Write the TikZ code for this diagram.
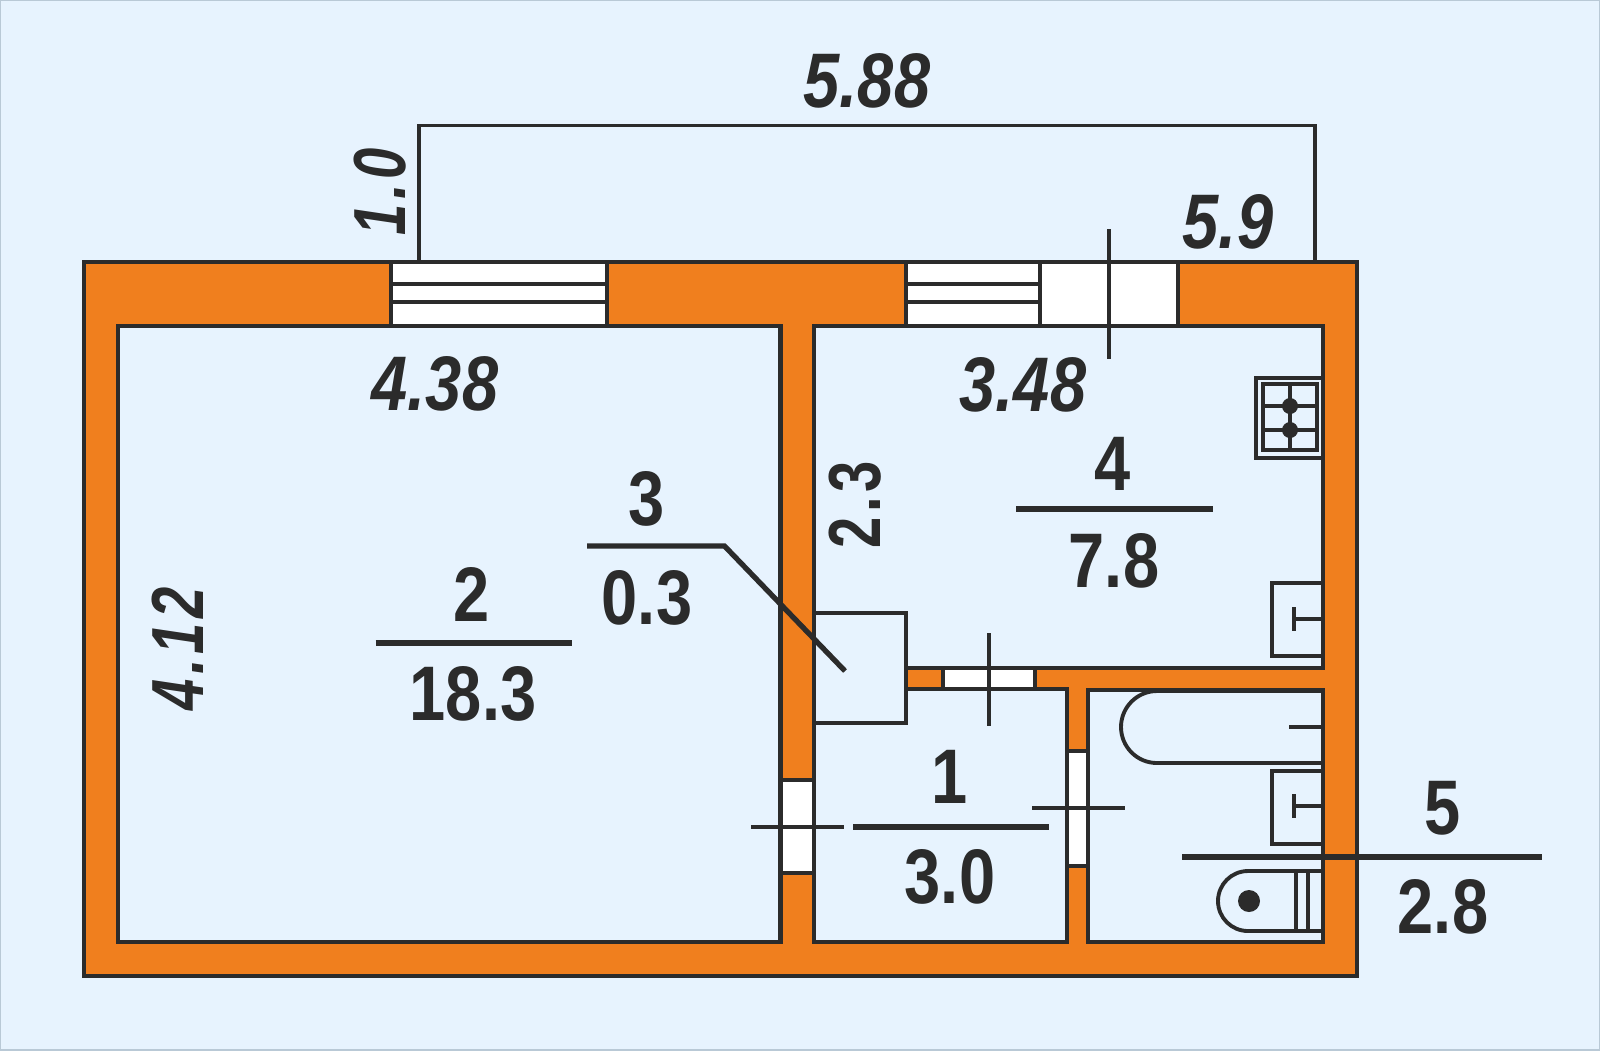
\documentclass[tikz,border=0pt]{standalone}
\usepackage{fontspec}
\usepackage{graphicx}
\newfontfamily\planfont{Liberation Sans}
\newcommand{\numtext}[1]{\scalebox{0.84}[1]{#1}}
\newcommand{\sidetext}[1]{\scalebox{0.76}[1]{\addfontfeature{LetterSpace=8}#1}}
\definecolor{planbg}{HTML}{E7F3FE}
\definecolor{framec}{HTML}{B9C9D6}
\definecolor{wallc}{HTML}{F07F1E}
\definecolor{inkc}{HTML}{2B2B2B}
\tikzset{
  wall/.style={draw=inkc,fill=wallc,line width=1.2pt},
  room/.style={draw=inkc,fill=planbg,line width=1.2pt},
  opening/.style={draw=inkc,fill=white,line width=1.2pt},
  thin ink/.style={draw=inkc,line width=1pt},
  fixture/.style={draw=inkc,line width=1.1pt},
  rule/.style={draw=inkc,line width=1.5pt},
  area/.style={inner sep=0pt,text=inkc,font=\planfont\fontsize{22}{22}\selectfont\bfseries},
  size/.style={inner sep=0pt,text=inkc,font=\planfont\fontsize{22}{22}\selectfont\bfseries\itshape},
  sidearea/.style={area,rotate=90,font=\planfont\fontsize{21}{21}\selectfont\bfseries},
  sidesize/.style={size,rotate=90,font=\planfont\fontsize{21}{21}\selectfont\bfseries\itshape}
}
\begin{document}
\begin{tikzpicture}[x=0.01cm,y=-0.01cm]
\useasboundingbox (0,0) rectangle (1600,1050);
\fill[planbg] (0,0) rectangle (1600,1050);
\draw[framec,line width=0.6pt] (0,0) rectangle (1600,1050);
% walls and rooms
\draw[wall] (84,262) rectangle (1357,976);
\draw[room] (118,326) rectangle (780.5,942);
\draw[room] (814,326) -- (1323,326) -- (1323,668) -- (906,668) -- (906,689) -- (1067,689) -- (1067,942) -- (814,942) -- cycle;
\draw[room] (1088,690) rectangle (1323,942);
\draw[thin ink] (814,613) -- (906,613) -- (906,668);
\draw[thin ink] (906,689) -- (906,723) -- (814,723);
% balcony
\draw[thin ink] (419,262) -- (419,125.5) -- (1315,125.5) -- (1315,262);
% windows and doors
\draw[opening] (391,262) rectangle (607,326);
\draw[opening] (906,262) rectangle (1040,326);
\draw[opening] (1040,262) rectangle (1178,326);
\foreach \y in {284,302} {
  \draw[thin ink] (391,\y) -- (607,\y);
  \draw[thin ink] (906,\y) -- (1040,\y);
}
\draw[opening] (780.5,780) rectangle (814,873);
\draw[opening] (943,668) rectangle (1035,689);
\draw[opening] (1067,751) rectangle (1088,866);
\draw[thin ink] (1109,229) -- (1109,359);
\draw[thin ink] (751,827) -- (844,827);
\draw[thin ink] (989,633) -- (989,726);
\draw[thin ink] (1032,808) -- (1125,808);
% stove
\draw[fixture] (1323,378) -- (1256,378) -- (1256,458) -- (1323,458);
\draw[fixture] (1263,384) rectangle (1317,450);
\draw[fixture] (1290,384) -- (1290,450);
\foreach \y in {406,430} {
  \draw[fixture] (1263,\y) -- (1317,\y);
  \fill[inkc] (1290,\y) circle (8);
}
% sinks
\foreach \y/\s in {583/619,771/806} {
  \draw[fixture] (1323,\y) -- (1272,\y) -- (1272,\y+73) -- (1323,\y+73);
  \draw[fixture] (1323,\s) -- (1294,\s);
  \draw[fixture] (1294,\s-12) -- (1294,\s+12);
}
% bath
\draw[fixture] (1323,763) -- (1157,763) arc (90:270:36) -- (1323,691);
\draw[fixture] (1289,727) -- (1323,727);
% toilet
\draw[fixture] (1323,871) -- (1248,871) arc (270:90:30) -- (1323,931);
\draw[fixture] (1296,871) -- (1296,931);
\draw[fixture] (1308,871) -- (1308,931);
\fill[inkc] (1249,901) circle (11);
% labels
\node[size] (L588) at (867,81) {\numtext{5.88}};
\node[sidesize] (L10) at (380,192) {\sidetext{1.0}};
\node[size] (L59) at (1228,222) {\numtext{5.9}};
\node[size] (L438) at (435,384) {\numtext{4.38}};
\node[size] (L348) at (1023,385) {\numtext{3.48}};
\node[sidearea] (L23) at (855,505) {\sidetext{2.3}};
\node[sidesize] (L412) at (178,649) {\sidetext{4.12}};
\node[area] (N3) at (647,499) {\numtext{3}};
\node[area] (A3) at (647,598) {\numtext{0.3}};
\draw[rule] (587,546) -- (724.5,546) -- (845,671);
\node[area] (N2) at (472,594) {\numtext{2}};
\node[area] (A2) at (473,694) {\numtext{18.3}};
\draw[rule] (375.5,643) -- (571.5,643);
\node[area] (N4) at (1113,464) {\numtext{4}};
\node[area] (A4) at (1114,561) {\numtext{7.8}};
\draw[rule] (1016,509) -- (1213,509);
\node[area] (N1) at (950,777) {\numtext{1}};
\node[area] (A1) at (950,877) {\numtext{3.0}};
\draw[rule] (853,827) -- (1049,827);
\node[area] (N5) at (1443,808) {\numtext{5}};
\node[area] (A5) at (1443,907) {\numtext{2.8}};
\draw[rule] (1182,857) -- (1542,857);
\end{tikzpicture}
\end{document}
